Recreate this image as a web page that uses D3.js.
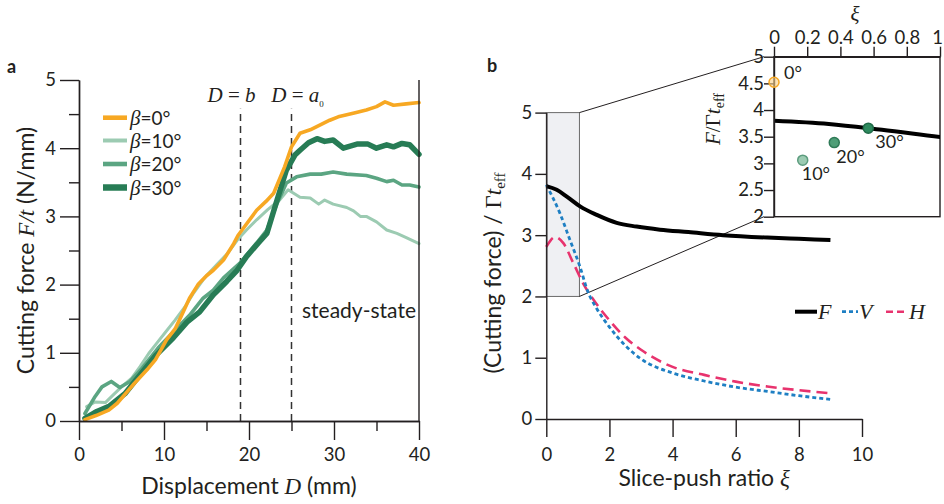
<!DOCTYPE html>
<html><head><meta charset="utf-8">
<script src="https://cdn.jsdelivr.net/npm/d3@7"></script>
<style>
body{margin:0;background:#fff;}
svg{display:block;}
</style></head><body>
<svg id="c" width="944" height="504"></svg>
<script>
// ---------------- DATA ----------------
// Panel a: cutting force F/t (N/mm) vs displacement D (mm)
const dispBeta0  = [0.7, 2, 3.5, 4.5, 5.6, 6.5, 8, 9, 10.3, 11.3, 12, 13, 14, 15, 15.8, 17, 18.2, 18.7, 20.9, 22, 22.9, 23.5, 24.2, 25, 26, 27.2, 28.5, 29.5, 30.5, 31.5, 32.5, 33.8, 35, 36, 37, 38.5, 40];
const forceBeta0 = [0.02, 0.08, 0.16, 0.26, 0.42, 0.55, 0.75, 0.9, 1.19, 1.35, 1.53, 1.8, 2.0, 2.13, 2.21, 2.36, 2.6, 2.72, 3.09, 3.22, 3.34, 3.52, 3.73, 4.02, 4.22, 4.27, 4.35, 4.41, 4.46, 4.49, 4.52, 4.56, 4.61, 4.68, 4.63, 4.65, 4.67];

const dispBeta10  = [0.9, 1.9, 3.1, 4, 5, 6.2, 7.2, 8.2, 9.2, 10.1, 11.3, 12.5, 13.5, 14.6, 15.5, 16.5, 17.5, 18.6, 19.7, 20.9, 22.2, 23.6, 24.6, 26, 27.2, 28.2, 28.9, 29.9, 31.5, 32.3, 33.1, 33.8, 35, 36.2, 37.4, 38.5, 40];
const forceBeta10 = [0.21, 0.28, 0.27, 0.38, 0.5, 0.63, 0.8, 0.99, 1.15, 1.29, 1.48, 1.68, 1.88, 2.07, 2.2, 2.33, 2.46, 2.65, 2.8, 2.95, 3.1, 3.24, 3.39, 3.28, 3.27, 3.18, 3.24, 3.18, 3.13, 3.08, 3.0, 3.0, 2.92, 2.8, 2.75, 2.69, 2.6];

const dispBeta20  = [0.7, 1.9, 2.7, 3.8, 4.8, 6, 7.4, 9.3, 11.3, 13, 14.6, 15.8, 17, 18.9, 20.9, 22.1, 23.3, 24.4, 25.6, 27.2, 28.5, 29.9, 31.5, 33.8, 35, 36.2, 37, 38, 38.9, 40];
const forceBeta20 = [0.11, 0.36, 0.5, 0.58, 0.49, 0.58, 0.77, 1.07, 1.33, 1.55, 1.8, 1.92, 2.1, 2.31, 2.61, 2.8, 3.19, 3.49, 3.58, 3.62, 3.62, 3.65, 3.62, 3.60, 3.56, 3.51, 3.53, 3.46, 3.46, 3.43];

const dispBeta30  = [0.7, 2.1, 3.6, 5.4, 7.2, 9.1, 11.1, 12.7, 14.2, 15.8, 17.4, 18.6, 19.7, 21.1, 22.1, 23.3, 24.4, 25.4, 26, 27, 28, 28.9, 29.9, 31.1, 32.7, 34, 35, 36.2, 37, 38, 38.9, 40];
const forceBeta30 = [0.04, 0.14, 0.22, 0.4, 0.68, 0.97, 1.22, 1.45, 1.6, 1.85, 2.05, 2.21, 2.41, 2.61, 2.75, 3.24, 3.68, 3.9, 3.97, 4.08, 4.14, 4.1, 4.12, 4.0, 4.06, 4.06, 4.0, 4.05, 4.02, 4.07, 4.05, 3.91];

const betaLabels = ["0°", "10°", "20°", "30°"];
const markerD = [19, 25];            // D = b, D = a0
const xTicksA = [0, 10, 20, 30, 40];
const xMinorA = [5, 15, 25, 35];
const yTicksA = [0, 1, 2, 3, 4, 5];
const yMinorA = [0.5, 1.5, 2.5, 3.5, 4.5];

// Panel b: normalised cutting force vs slice-push ratio
const xiF  = [0, 0.33, 0.65, 1.07, 1.6, 2.23, 2.86, 3.6, 4.5, 5.6, 7, 8, 9];
const valF = [3.80, 3.74, 3.63, 3.47, 3.33, 3.2, 3.14, 3.09, 3.05, 3.0, 2.96, 2.94, 2.92];
const xiV  = [0, 0.43, 0.75, 1.07, 1.3, 1.6, 2, 2.5, 3, 4, 5, 6, 7, 8, 9];
const valV = [3.82, 3.36, 2.92, 2.48, 2.1, 1.8, 1.5, 1.2, 0.98, 0.75, 0.62, 0.52, 0.45, 0.38, 0.32];
const xiH  = [0, 0.28, 0.54, 0.86, 1.17, 1.49, 2, 2.5, 3, 4, 5, 6, 7, 8, 9];
const valH = [2.81, 2.97, 2.87, 2.54, 2.21, 1.95, 1.61, 1.33, 1.13, 0.85, 0.72, 0.61, 0.53, 0.47, 0.42];
const xTicksB = [0, 2, 4, 6, 8, 10];
const yTicksB = [0, 1, 2, 3, 4, 5];
const zoomXi = [0, 1.05];
const zoomVal = [2, 5];

// Inset: measured points
const pointXi  = [0, 0.173, 0.363, 0.568];
const pointVal = [4.52, 3.06, 3.39, 3.66];
const insetXTicks = [0, 0.2, 0.4, 0.6, 0.8, 1];
const insetYTicks = [2, 2.5, 3, 3.5, 4, 4.5, 5];

// ---------------- STYLE ----------------
const SANS = "Lato, 'Noto Sans', sans-serif";
const SERIF = "'Liberation Serif', 'DejaVu Serif', serif";
const INK = "#231f20";
const TICKFS = 18.5, TITLEFS = 23;
const betaColors = ["#f7a823", "#9ccbb2", "#5ba582", "#277c55"];
const betaWidths = [3.6, 3, 3.6, 5.5];
const ptFill = ["#fcd187", "#9ccbb2", "#4f9e78", "#2e8a5e"];
const ptStroke = ["#f7a823", "#5c9c7e", "#2f7a57", "#1f6a47"];
const ptLabelDx = [10, -1, 2, 7];
const ptLabelDy = [-3, 20, 20, 20];
const BLUE = "#1e7fc3", PINK = "#e8336e";
const fmtInt = d3.format("d");

const svg = d3.select("#c");

function styleAxis(g, fs) {
  g.selectAll("path.domain").attr("stroke", INK).attr("stroke-width", 1.4);
  g.selectAll(".tick line").attr("stroke", INK).attr("stroke-width", 1.4);
  g.selectAll(".tick text").attr("font-family", SANS).attr("font-size", fs).attr("fill", INK);
}

// ================= PANEL A =================
const xA = d3.scaleLinear().domain([0, 40]).range([79, 419]);
const yA = d3.scaleLinear().domain([0, 5]).range([421, 80]);

// dashed markers
svg.append("g").selectAll("line").data(markerD).join("line")
  .attr("x1", d => xA(d)).attr("x2", d => xA(d))
  .attr("y1", yA(0)).attr("y2", yA(4.58))
  .attr("stroke", "#333").attr("stroke-width", 1.5).attr("stroke-dasharray", "7,5");

const seriesA = [
  {D: dispBeta10, F: forceBeta10, i: 1},
  {D: dispBeta20, F: forceBeta20, i: 2},
  {D: dispBeta30, F: forceBeta30, i: 3},
  {D: dispBeta0,  F: forceBeta0,  i: 0}
];
const lineA = d3.line().x(d => xA(d[0])).y(d => yA(d[1]));
svg.append("g").selectAll("path").data(seriesA).join("path")
  .attr("d", s => lineA(s.D.map((d, k) => [d, s.F[k]])))
  .attr("fill", "none")
  .attr("stroke", s => betaColors[s.i])
  .attr("stroke-width", s => betaWidths[s.i])
  .attr("stroke-linejoin", "round").attr("stroke-linecap", "round");

// axes A
const gxA = svg.append("g").attr("transform", `translate(0,${yA(0)})`)
  .call(d3.axisBottom(xA).tickValues(xTicksA).tickFormat(fmtInt).tickSize(19).tickSizeOuter(0).tickPadding(8));
styleAxis(gxA, TICKFS);
const gxA2 = svg.append("g").attr("transform", `translate(0,${yA(0)})`)
  .call(d3.axisBottom(xA).tickValues(xMinorA).tickSize(10).tickSizeOuter(0).tickFormat(""));
styleAxis(gxA2, TICKFS);
const gyA = svg.append("g").attr("transform", `translate(${xA(0)},0)`)
  .call(d3.axisLeft(yA).tickValues(yTicksA).tickFormat(fmtInt).tickSize(19).tickSizeOuter(0).tickPadding(4));
styleAxis(gyA, TICKFS);
const gyA2 = svg.append("g").attr("transform", `translate(${xA(0)},0)`)
  .call(d3.axisLeft(yA).tickValues(yMinorA).tickSize(10).tickSizeOuter(0).tickFormat(""));
styleAxis(gyA2, TICKFS);
svg.append("line").attr("x1", xA(40)).attr("x2", xA(40)).attr("y1", yA(0)).attr("y2", yA(5))
  .attr("stroke", INK).attr("stroke-width", 1.4);

// marker labels
const mb = svg.append("text").attr("x", xA(markerD[0]) - 9).attr("y", 102).attr("text-anchor", "middle")
  .attr("font-family", SERIF).attr("font-size", 21).attr("fill", INK);
mb.append("tspan").attr("font-style", "italic").text("D");
mb.append("tspan").text(" = ");
mb.append("tspan").attr("font-style", "italic").text("b");
const ma = svg.append("text").attr("x", xA(markerD[1]) + 6).attr("y", 102).attr("text-anchor", "middle")
  .attr("font-family", SERIF).attr("font-size", 21).attr("fill", INK);
ma.append("tspan").attr("font-style", "italic").text("D");
ma.append("tspan").text(" = ");
ma.append("tspan").attr("font-style", "italic").text("a");
ma.append("tspan").attr("font-size", 9).attr("dy", 5).text("0");

svg.append("text").attr("x", 302).attr("y", 318).attr("font-family", SANS).attr("font-size", 21)
  .attr("fill", INK).text("steady-state");

// legend A
const legRows = [117.7, 140.5, 164, 187.5];
const lg = svg.append("g");
betaLabels.forEach((lab, i) => {
  lg.append("line").attr("x1", 103).attr("x2", 127).attr("y1", legRows[i]).attr("y2", legRows[i])
    .attr("stroke", betaColors[i]).attr("stroke-width", betaWidths[i] + 1);
  const t = lg.append("text").attr("x", 130).attr("y", legRows[i] + 7)
    .attr("font-family", SANS).attr("font-size", 19).attr("fill", INK);
  t.append("tspan").attr("font-family", SERIF).attr("font-style", "italic").attr("font-size", 21).text("β");
  t.append("tspan").text("=" + lab);
});

// axis titles A
const xtA = svg.append("text").attr("x", (xA(0) + xA(40)) / 2).attr("y", 494).attr("text-anchor", "middle")
  .attr("font-family", SANS).attr("font-size", TITLEFS).attr("fill", INK);
xtA.append("tspan").text("Displacement ");
xtA.append("tspan").attr("font-family", SERIF).attr("font-style", "italic").text("D");
xtA.append("tspan").text(" (mm)");

const ytA = svg.append("text").attr("transform", `translate(26,${(yA(0) + yA(5)) / 2}) rotate(-90)`)
  .attr("text-anchor", "middle").attr("dy", "0.35em")
  .attr("font-family", SANS).attr("font-size", TITLEFS).attr("fill", INK);
ytA.append("tspan").text("Cutting force ");
ytA.append("tspan").attr("font-family", SERIF).attr("font-style", "italic").text("F/t");
ytA.append("tspan").text(" (N/mm)");

svg.append("text").attr("x", 7).attr("y", 73).attr("font-family", SANS).attr("font-weight", "bold")
  .attr("font-size", 18).attr("fill", INK).text("a");
svg.append("text").attr("x", 487).attr("y", 72).attr("font-family", SANS).attr("font-weight", "bold")
  .attr("font-size", 18).attr("fill", INK).text("b");

// ================= PANEL B =================
const xB = d3.scaleLinear().domain([0, 10]).range([546.3, 862]);
const yB = d3.scaleLinear().domain([0, 5]).range([419, 112.6]);
const xI = d3.scaleLinear().domain([0, 1]).range([774, 940]);
const yI = d3.scaleLinear().domain([2, 5]).range([216.7, 56.7]);

// zoom rectangle
svg.append("rect").attr("x", xB(zoomXi[0])).attr("y", yB(zoomVal[1]))
  .attr("width", xB(zoomXi[1]) - xB(zoomXi[0])).attr("height", yB(zoomVal[0]) - yB(zoomVal[1]))
  .attr("fill", "#eff0f3").attr("stroke", "#6b6b6b").attr("stroke-width", 1);
// connectors
svg.append("line").attr("x1", xB(zoomXi[1])).attr("y1", yB(zoomVal[1])).attr("x2", xI(0) - 10).attr("y2", yI(zoomVal[1]))
  .attr("stroke", INK).attr("stroke-width", 1);
svg.append("line").attr("x1", xB(zoomXi[1])).attr("y1", yB(zoomVal[0])).attr("x2", xI(0) - 10).attr("y2", yI(zoomVal[0]))
  .attr("stroke", INK).attr("stroke-width", 1);

const lineB = d3.line().x(d => xB(d[0])).y(d => yB(d[1])).curve(d3.curveMonotoneX);
svg.append("path").attr("d", lineB(xiH.map((x, k) => [x, valH[k]])))
  .attr("fill", "none").attr("stroke", PINK).attr("stroke-width", 2.6).attr("stroke-dasharray", "11,6");
svg.append("path").attr("d", lineB(xiV.map((x, k) => [x, valV[k]])))
  .attr("fill", "none").attr("stroke", BLUE).attr("stroke-width", 2.8).attr("stroke-dasharray", "4,3");
svg.append("path").attr("d", lineB(xiF.map((x, k) => [x, valF[k]])))
  .attr("fill", "none").attr("stroke", "#000").attr("stroke-width", 4);

const gxB = svg.append("g").attr("transform", `translate(0,${yB(0)})`)
  .call(d3.axisBottom(xB).tickValues(xTicksB).tickFormat(fmtInt).tickSize(18).tickSizeOuter(0).tickPadding(11));
styleAxis(gxB, TICKFS);
const gyB = svg.append("g").attr("transform", `translate(${xB(0)},0)`)
  .call(d3.axisLeft(yB).tickValues(yTicksB).tickFormat(fmtInt).tickSize(11).tickSizeOuter(0).tickPadding(3));
styleAxis(gyB, TICKFS);

// legend B
const lgB = svg.append("g");
const legY = 311.7;
lgB.append("line").attr("x1", 795).attr("x2", 817).attr("y1", legY).attr("y2", legY).attr("stroke", "#000").attr("stroke-width", 4);
lgB.append("line").attr("x1", 842).attr("x2", 858).attr("y1", legY).attr("y2", legY).attr("stroke", BLUE).attr("stroke-width", 2.8).attr("stroke-dasharray", "4,3");
lgB.append("line").attr("x1", 886).attr("x2", 907).attr("y1", legY).attr("y2", legY).attr("stroke", PINK).attr("stroke-width", 2.6).attr("stroke-dasharray", "7,4");
[["F", 818], ["V", 859], ["H", 909]].forEach(([s, x]) => {
  lgB.append("text").attr("x", x).attr("y", legY + 7).attr("font-family", SERIF).attr("font-style", "italic")
    .attr("font-size", 22).attr("fill", INK).text(s);
});

// axis titles B
const xtB = svg.append("text").attr("x", (xB(0) + xB(10)) / 2).attr("y", 486).attr("text-anchor", "middle")
  .attr("font-family", SANS).attr("font-size", TITLEFS).attr("fill", INK);
xtB.append("tspan").text("Slice-push ratio ");
xtB.append("tspan").attr("font-family", SERIF).attr("font-style", "italic").text("ξ");

const ytB = svg.append("text").attr("transform", `translate(493,273) rotate(-90)`)
  .attr("text-anchor", "middle").attr("dy", "0.35em")
  .attr("font-family", SANS).attr("font-size", TITLEFS).attr("fill", INK);
ytB.append("tspan").text("(Cutting force) / ");
ytB.append("tspan").attr("font-family", SERIF).text("Γ");
ytB.append("tspan").attr("font-family", SERIF).attr("font-style", "italic").text("t");
ytB.append("tspan").attr("font-family", SERIF).attr("font-size", 15).attr("dy", 4).text("eff");

// ================= INSET =================
svg.append("rect").attr("x", xI(0)).attr("y", yI(5)).attr("width", xI(1) - xI(0)).attr("height", yI(2) - yI(5))
  .attr("fill", "#fff").attr("stroke", INK).attr("stroke-width", 1.4);
svg.append("clipPath").attr("id", "insetClip").append("rect")
  .attr("x", xI(0)).attr("y", yI(5)).attr("width", xI(1) - xI(0)).attr("height", yI(2) - yI(5));
const lineI = d3.line().x(d => xI(d[0])).y(d => yI(d[1])).curve(d3.curveMonotoneX);
svg.append("path").attr("clip-path", "url(#insetClip)")
  .attr("d", lineI(xiF.map((x, k) => [x, valF[k]])))
  .attr("fill", "none").attr("stroke", "#000").attr("stroke-width", 4);

const gxI = svg.append("g").attr("transform", `translate(0,${yI(5)})`)
  .call(d3.axisTop(xI).tickValues(insetXTicks).tickSize(10).tickSizeOuter(0).tickPadding(3).tickFormat(d => String(d)));
styleAxis(gxI, TICKFS);
gxI.selectAll(".tick text").filter(d => d === 1).attr("dx", -3);
const gyI = svg.append("g").attr("transform", `translate(${xI(0)},0)`)
  .call(d3.axisLeft(yI).tickValues(insetYTicks).tickSize(10).tickSizeOuter(0).tickPadding(0).tickFormat(d => String(d)));
styleAxis(gyI, TICKFS);

// points
const ptG = svg.append("g");
pointXi.forEach((x, i) => {
  ptG.append("circle").attr("cx", xI(x)).attr("cy", yI(pointVal[i])).attr("r", 5)
    .attr("fill", ptFill[i]).attr("fill-opacity", i === 0 ? 0.6 : 1)
    .attr("stroke", ptStroke[i]).attr("stroke-width", 1.5);
  ptG.append("text").attr("x", xI(x) + ptLabelDx[i]).attr("y", yI(pointVal[i]) + ptLabelDy[i])
    .attr("font-family", SANS).attr("font-size", 18).attr("fill", INK).text(betaLabels[i]);
});

svg.append("text").attr("x", (xI(0) + xI(1)) / 2 - 2).attr("y", 21).attr("text-anchor", "middle")
  .attr("font-family", SERIF).attr("font-style", "italic").attr("font-size", 21).attr("fill", INK).text("ξ");

const ytI = svg.append("text").attr("transform", `translate(713,119) rotate(-90)`)
  .attr("text-anchor", "middle").attr("dy", "0.35em")
  .attr("font-family", SERIF).attr("font-size", 21).attr("fill", INK);
ytI.append("tspan").attr("font-style", "italic").text("F");
ytI.append("tspan").text("/Γ");
ytI.append("tspan").attr("font-style", "italic").text("t");
ytI.append("tspan").attr("font-size", 14).attr("dy", 4).text("eff");
</script>
</body></html>
